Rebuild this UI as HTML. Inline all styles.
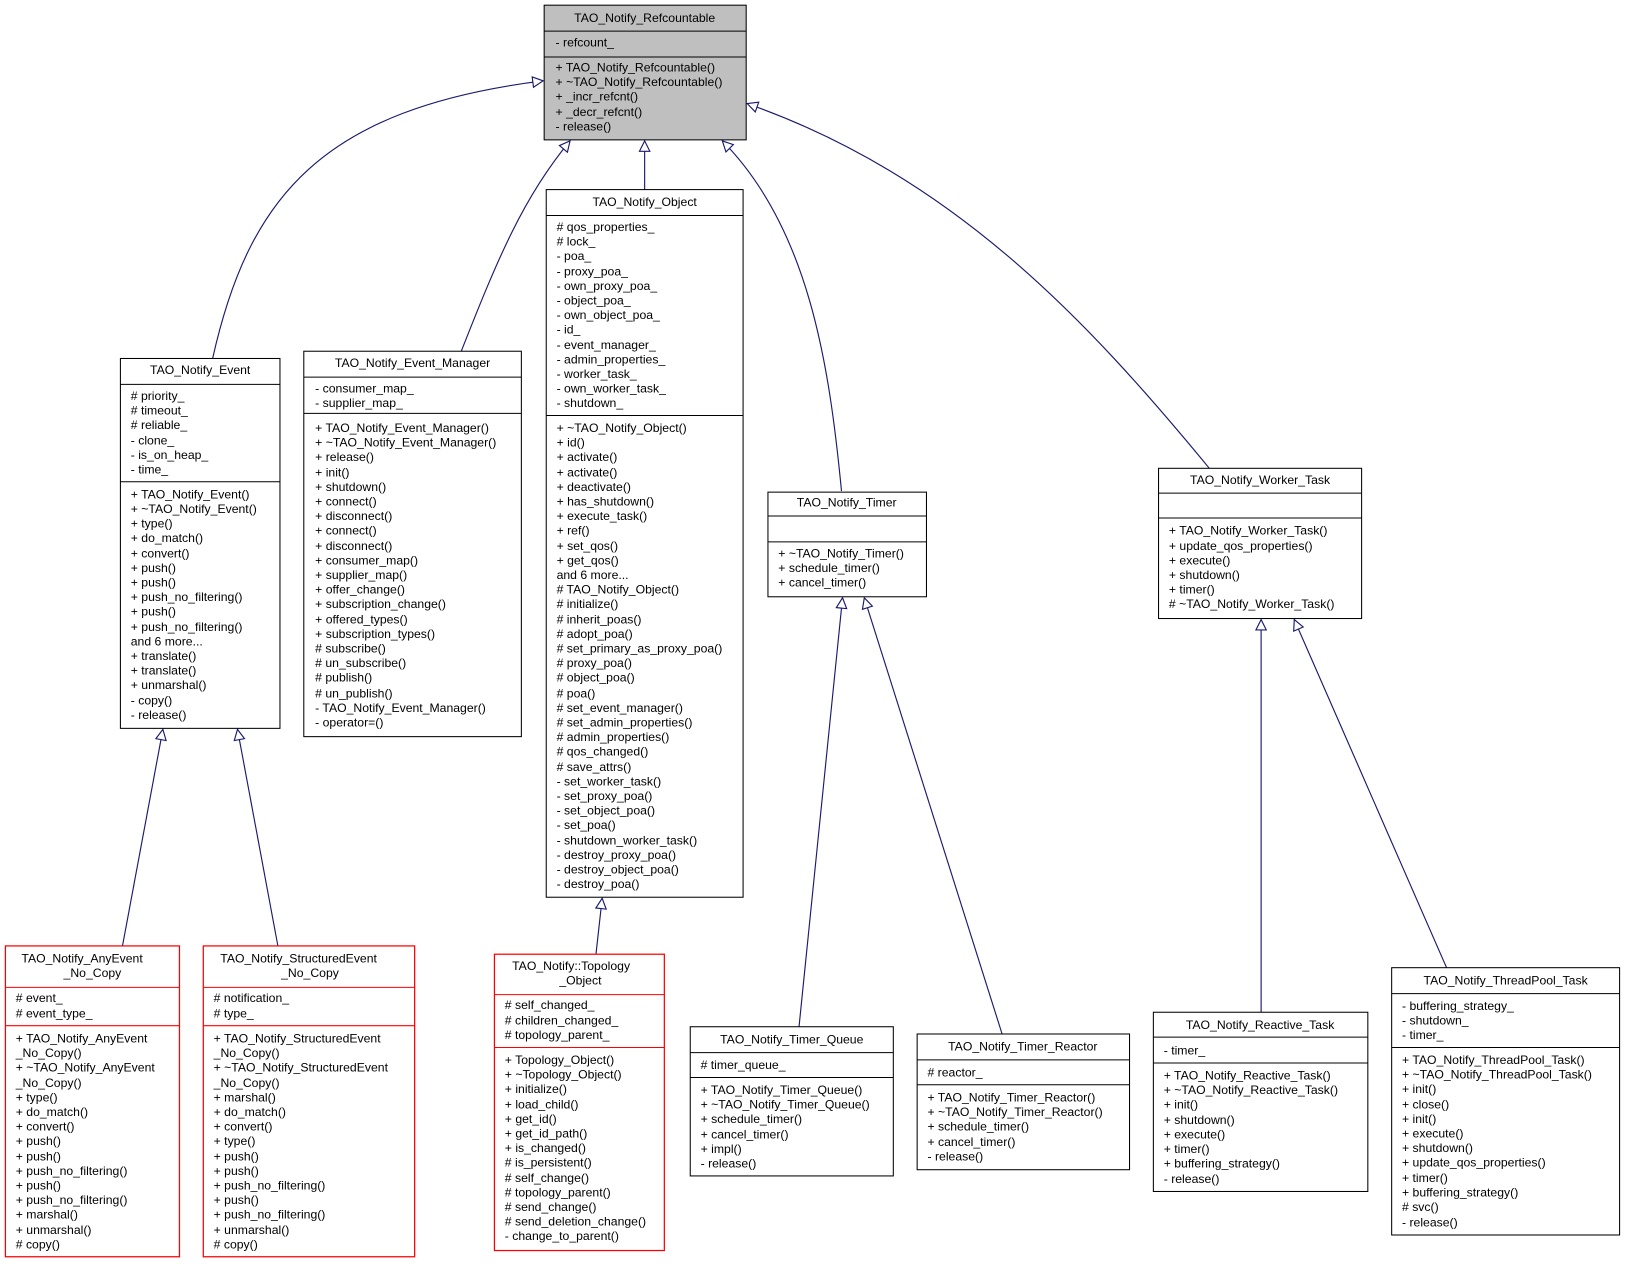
<!DOCTYPE html>
<html><head><meta charset="utf-8"><style>
html,body{margin:0;padding:0;background:#fff;width:1625px;height:1264px;overflow:hidden}
svg{display:block}
text{font-family:"Liberation Sans",sans-serif;font-size:11.8px;fill:#000}
.t{text-anchor:middle}
.b{fill:#fff;stroke:#000;stroke-width:1}
.r{fill:#fff;stroke:#f00;stroke-width:1.2}
.g{fill:#bfbfbf;stroke:#000;stroke-width:1}
.e{fill:none;stroke:#191970;stroke-width:1.1}
</style></head><body>
<svg width="1625" height="1264" viewBox="0 0 1568 1220" xmlns="http://www.w3.org/2000/svg">
<defs><marker id="a" viewBox="0 0 12 12" refX="11" refY="6" markerWidth="12" markerHeight="12" markerUnits="userSpaceOnUse" orient="auto"><path d="M1,1 L11,6 L1,11 Z" fill="#fff" stroke="#191970" stroke-width="1.1"/></marker></defs>

<!-- edges -->
<path class="e" marker-end="url(#a)" d="M205,346 C240,190 310,105 524,78"/>
<path class="e" marker-end="url(#a)" d="M445,339 C480,250 505,190 550,136"/>
<path class="e" marker-end="url(#a)" d="M622,183 L622,136"/>
<path class="e" marker-end="url(#a)" d="M812,474 C800,350 780,220 697,136"/>
<path class="e" marker-end="url(#a)" d="M1167,452 C1050,310 920,170 721,100"/>
<path class="e" marker-end="url(#a)" d="M118,913 L157,704"/>
<path class="e" marker-end="url(#a)" d="M268,913 L229,704"/>
<path class="e" marker-end="url(#a)" d="M575,921 L581,867"/>
<path class="e" marker-end="url(#a)" d="M771,991 L813,577"/>
<path class="e" marker-end="url(#a)" d="M967,998 L834,577"/>
<path class="e" marker-end="url(#a)" d="M1217,977 L1217,598"/>
<path class="e" marker-end="url(#a)" d="M1396,934 L1249,598"/>

<!-- Refcountable -->
<rect class="g" x="525" y="5" width="195" height="130"/>
<line x1="525" y1="30" x2="720" y2="30" stroke="#000"/><line x1="525" y1="55" x2="720" y2="55" stroke="#000"/>
<text class="t" x="622" y="21">TAO_Notify_Refcountable</text>
<text x="536" y="45">- refcount_</text>
<text x="536" y="69">+ TAO_Notify_Refcountable()</text>
<text x="536" y="83">+ ~TAO_Notify_Refcountable()</text>
<text x="536" y="97">+ _incr_refcnt()</text>
<text x="536" y="112">+ _decr_refcnt()</text>
<text x="536" y="126">- release()</text>

<!-- Event -->
<rect class="b" x="116" y="346" width="154" height="357"/>
<line x1="116" y1="371" x2="270" y2="371" stroke="#000"/><line x1="116" y1="465" x2="270" y2="465" stroke="#000"/>
<text class="t" x="193" y="361">TAO_Notify_Event</text>
<text x="126" y="386"># priority_</text><text x="126" y="400"># timeout_</text><text x="126" y="414"># reliable_</text><text x="126" y="429">- clone_</text><text x="126" y="443">- is_on_heap_</text><text x="126" y="457">- time_</text>
<text x="126" y="481">+ TAO_Notify_Event()</text><text x="126" y="495">+ ~TAO_Notify_Event()</text><text x="126" y="509">+ type()</text><text x="126" y="523">+ do_match()</text><text x="126" y="538">+ convert()</text><text x="126" y="552">+ push()</text><text x="126" y="566">+ push()</text><text x="126" y="580">+ push_no_filtering()</text><text x="126" y="594">+ push()</text><text x="126" y="609">+ push_no_filtering()</text><text x="126" y="623">and 6 more...</text><text x="126" y="637">+ translate()</text><text x="126" y="651">+ translate()</text><text x="126" y="665">+ unmarshal()</text><text x="126" y="680">- copy()</text><text x="126" y="694">- release()</text>

<!-- Event_Manager -->
<rect class="b" x="293" y="339" width="210" height="372"/>
<line x1="293" y1="364" x2="503" y2="364" stroke="#000"/><line x1="293" y1="399" x2="503" y2="399" stroke="#000"/>
<text class="t" x="398" y="354">TAO_Notify_Event_Manager</text>
<text x="304" y="379">- consumer_map_</text><text x="304" y="393">- supplier_map_</text>
<text x="304" y="417">+ TAO_Notify_Event_Manager()</text><text x="304" y="431">+ ~TAO_Notify_Event_Manager()</text><text x="304" y="445">+ release()</text><text x="304" y="460">+ init()</text><text x="304" y="474">+ shutdown()</text><text x="304" y="488">+ connect()</text><text x="304" y="502">+ disconnect()</text><text x="304" y="516">+ connect()</text><text x="304" y="531">+ disconnect()</text><text x="304" y="545">+ consumer_map()</text><text x="304" y="559">+ supplier_map()</text><text x="304" y="573">+ offer_change()</text><text x="304" y="587">+ subscription_change()</text><text x="304" y="602">+ offered_types()</text><text x="304" y="616">+ subscription_types()</text><text x="304" y="630"># subscribe()</text><text x="304" y="644"># un_subscribe()</text><text x="304" y="658"># publish()</text><text x="304" y="673"># un_publish()</text><text x="304" y="687">- TAO_Notify_Event_Manager()</text><text x="304" y="701">- operator=()</text>

<!-- Object -->
<rect class="b" x="527" y="183" width="190" height="683"/>
<line x1="527" y1="208" x2="717" y2="208" stroke="#000"/><line x1="527" y1="401" x2="717" y2="401" stroke="#000"/>
<text class="t" x="622" y="199">TAO_Notify_Object</text>
<text x="537" y="223"># qos_properties_</text><text x="537" y="237"># lock_</text><text x="537" y="251">- poa_</text><text x="537" y="266">- proxy_poa_</text><text x="537" y="280">- own_proxy_poa_</text><text x="537" y="294">- object_poa_</text><text x="537" y="308">- own_object_poa_</text><text x="537" y="322">- id_</text><text x="537" y="337">- event_manager_</text><text x="537" y="351">- admin_properties_</text><text x="537" y="365">- worker_task_</text><text x="537" y="379">- own_worker_task_</text><text x="537" y="393">- shutdown_</text>
<text x="537" y="417">+ ~TAO_Notify_Object()</text><text x="537" y="431">+ id()</text><text x="537" y="445">+ activate()</text><text x="537" y="460">+ activate()</text><text x="537" y="474">+ deactivate()</text><text x="537" y="488">+ has_shutdown()</text><text x="537" y="502">+ execute_task()</text><text x="537" y="516">+ ref()</text><text x="537" y="531">+ set_qos()</text><text x="537" y="545">+ get_qos()</text><text x="537" y="559">and 6 more...</text><text x="537" y="573"># TAO_Notify_Object()</text><text x="537" y="587"># initialize()</text><text x="537" y="602"># inherit_poas()</text><text x="537" y="616"># adopt_poa()</text><text x="537" y="630"># set_primary_as_proxy_poa()</text><text x="537" y="644"># proxy_poa()</text><text x="537" y="658"># object_poa()</text><text x="537" y="673"># poa()</text><text x="537" y="687"># set_event_manager()</text><text x="537" y="701"># set_admin_properties()</text><text x="537" y="715"># admin_properties()</text><text x="537" y="729"># qos_changed()</text><text x="537" y="744"># save_attrs()</text><text x="537" y="758">- set_worker_task()</text><text x="537" y="772">- set_proxy_poa()</text><text x="537" y="786">- set_object_poa()</text><text x="537" y="800">- set_poa()</text><text x="537" y="815">- shutdown_worker_task()</text><text x="537" y="829">- destroy_proxy_poa()</text><text x="537" y="843">- destroy_object_poa()</text><text x="537" y="857">- destroy_poa()</text>

<!-- Timer -->
<rect class="b" x="741" y="475" width="153" height="101"/>
<line x1="741" y1="498" x2="894" y2="498" stroke="#000"/><line x1="741" y1="523" x2="894" y2="523" stroke="#000"/>
<text class="t" x="817" y="489">TAO_Notify_Timer</text>
<text x="751" y="538">+ ~TAO_Notify_Timer()</text><text x="751" y="552">+ schedule_timer()</text><text x="751" y="566">+ cancel_timer()</text>

<!-- Worker_Task -->
<rect class="b" x="1118" y="452" width="196" height="145"/>
<line x1="1118" y1="476" x2="1314" y2="476" stroke="#000"/><line x1="1118" y1="500" x2="1314" y2="500" stroke="#000"/>
<text class="t" x="1216" y="467">TAO_Notify_Worker_Task</text>
<text x="1128" y="516">+ TAO_Notify_Worker_Task()</text><text x="1128" y="531">+ update_qos_properties()</text><text x="1128" y="545">+ execute()</text><text x="1128" y="559">+ shutdown()</text><text x="1128" y="573">+ timer()</text><text x="1128" y="587"># ~TAO_Notify_Worker_Task()</text>

<!-- AnyEvent -->
<rect class="r" x="5" y="913" width="168" height="300"/>
<line x1="5" y1="953" x2="173" y2="953" stroke="#f00"/><line x1="5" y1="990" x2="173" y2="990" stroke="#f00"/>
<text class="t" x="79" y="929">TAO_Notify_AnyEvent</text><text class="t" x="89" y="943">_No_Copy</text>
<text x="15" y="967"># event_</text><text x="15" y="982"># event_type_</text>
<text x="15" y="1006">+ TAO_Notify_AnyEvent</text><text x="15" y="1020">_No_Copy()</text><text x="15" y="1034">+ ~TAO_Notify_AnyEvent</text><text x="15" y="1049">_No_Copy()</text><text x="15" y="1063">+ type()</text><text x="15" y="1077">+ do_match()</text><text x="15" y="1091">+ convert()</text><text x="15" y="1105">+ push()</text><text x="15" y="1120">+ push()</text><text x="15" y="1134">+ push_no_filtering()</text><text x="15" y="1148">+ push()</text><text x="15" y="1162">+ push_no_filtering()</text><text x="15" y="1176">+ marshal()</text><text x="15" y="1191">+ unmarshal()</text><text x="15" y="1205"># copy()</text>

<!-- StructuredEvent -->
<rect class="r" x="196" y="913" width="204" height="300"/>
<line x1="196" y1="953" x2="400" y2="953" stroke="#f00"/><line x1="196" y1="990" x2="400" y2="990" stroke="#f00"/>
<text class="t" x="288" y="929">TAO_Notify_StructuredEvent</text><text class="t" x="299" y="943">_No_Copy</text>
<text x="206" y="967"># notification_</text><text x="206" y="982"># type_</text>
<text x="206" y="1006">+ TAO_Notify_StructuredEvent</text><text x="206" y="1020">_No_Copy()</text><text x="206" y="1034">+ ~TAO_Notify_StructuredEvent</text><text x="206" y="1049">_No_Copy()</text><text x="206" y="1063">+ marshal()</text><text x="206" y="1077">+ do_match()</text><text x="206" y="1091">+ convert()</text><text x="206" y="1105">+ type()</text><text x="206" y="1120">+ push()</text><text x="206" y="1134">+ push()</text><text x="206" y="1148">+ push_no_filtering()</text><text x="206" y="1162">+ push()</text><text x="206" y="1176">+ push_no_filtering()</text><text x="206" y="1191">+ unmarshal()</text><text x="206" y="1205"># copy()</text>

<!-- Topology -->
<rect class="r" x="477" y="921" width="164" height="286"/>
<line x1="477" y1="960" x2="641" y2="960" stroke="#f00"/><line x1="477" y1="1011" x2="641" y2="1011" stroke="#f00"/>
<text class="t" x="551" y="936">TAO_Notify::Topology</text><text class="t" x="560" y="950">_Object</text>
<text x="487" y="974"># self_changed_</text><text x="487" y="989"># children_changed_</text><text x="487" y="1003"># topology_parent_</text>
<text x="487" y="1027">+ Topology_Object()</text><text x="487" y="1041">+ ~Topology_Object()</text><text x="487" y="1055">+ initialize()</text><text x="487" y="1070">+ load_child()</text><text x="487" y="1084">+ get_id()</text><text x="487" y="1098">+ get_id_path()</text><text x="487" y="1112">+ is_changed()</text><text x="487" y="1126"># is_persistent()</text><text x="487" y="1141"># self_change()</text><text x="487" y="1155"># topology_parent()</text><text x="487" y="1169"># send_change()</text><text x="487" y="1183"># send_deletion_change()</text><text x="487" y="1197">- change_to_parent()</text>

<!-- Timer_Queue -->
<rect class="b" x="666" y="991" width="196" height="144"/>
<line x1="666" y1="1016" x2="862" y2="1016" stroke="#000"/><line x1="666" y1="1040" x2="862" y2="1040" stroke="#000"/>
<text class="t" x="764" y="1007">TAO_Notify_Timer_Queue</text>
<text x="676" y="1032"># timer_queue_</text>
<text x="676" y="1056">+ TAO_Notify_Timer_Queue()</text><text x="676" y="1070">+ ~TAO_Notify_Timer_Queue()</text><text x="676" y="1084">+ schedule_timer()</text><text x="676" y="1099">+ cancel_timer()</text><text x="676" y="1113">+ impl()</text><text x="676" y="1127">- release()</text>

<!-- Timer_Reactor -->
<rect class="b" x="885" y="998" width="205" height="131"/>
<line x1="885" y1="1023" x2="1090" y2="1023" stroke="#000"/><line x1="885" y1="1047" x2="1090" y2="1047" stroke="#000"/>
<text class="t" x="987" y="1014">TAO_Notify_Timer_Reactor</text>
<text x="895" y="1039"># reactor_</text>
<text x="895" y="1063">+ TAO_Notify_Timer_Reactor()</text><text x="895" y="1077">+ ~TAO_Notify_Timer_Reactor()</text><text x="895" y="1091">+ schedule_timer()</text><text x="895" y="1106">+ cancel_timer()</text><text x="895" y="1120">- release()</text>

<!-- Reactive_Task -->
<rect class="b" x="1113" y="977" width="207" height="173"/>
<line x1="1113" y1="1001" x2="1320" y2="1001" stroke="#000"/><line x1="1113" y1="1026" x2="1320" y2="1026" stroke="#000"/>
<text class="t" x="1216" y="993">TAO_Notify_Reactive_Task</text>
<text x="1123" y="1018">- timer_</text>
<text x="1123" y="1042">+ TAO_Notify_Reactive_Task()</text><text x="1123" y="1056">+ ~TAO_Notify_Reactive_Task()</text><text x="1123" y="1070">+ init()</text><text x="1123" y="1085">+ shutdown()</text><text x="1123" y="1099">+ execute()</text><text x="1123" y="1113">+ timer()</text><text x="1123" y="1127">+ buffering_strategy()</text><text x="1123" y="1142">- release()</text>

<!-- ThreadPool_Task -->
<rect class="b" x="1343" y="934" width="220" height="258"/>
<line x1="1343" y1="959" x2="1563" y2="959" stroke="#000"/><line x1="1343" y1="1011" x2="1563" y2="1011" stroke="#000"/>
<text class="t" x="1453" y="950">TAO_Notify_ThreadPool_Task</text>
<text x="1353" y="975">- buffering_strategy_</text><text x="1353" y="989">- shutdown_</text><text x="1353" y="1003">- timer_</text>
<text x="1353" y="1027">+ TAO_Notify_ThreadPool_Task()</text><text x="1353" y="1041">+ ~TAO_Notify_ThreadPool_Task()</text><text x="1353" y="1055">+ init()</text><text x="1353" y="1070">+ close()</text><text x="1353" y="1084">+ init()</text><text x="1353" y="1098">+ execute()</text><text x="1353" y="1112">+ shutdown()</text><text x="1353" y="1126">+ update_qos_properties()</text><text x="1353" y="1141">+ timer()</text><text x="1353" y="1155">+ buffering_strategy()</text><text x="1353" y="1169"># svc()</text><text x="1353" y="1184">- release()</text>
</svg>
</body></html>
